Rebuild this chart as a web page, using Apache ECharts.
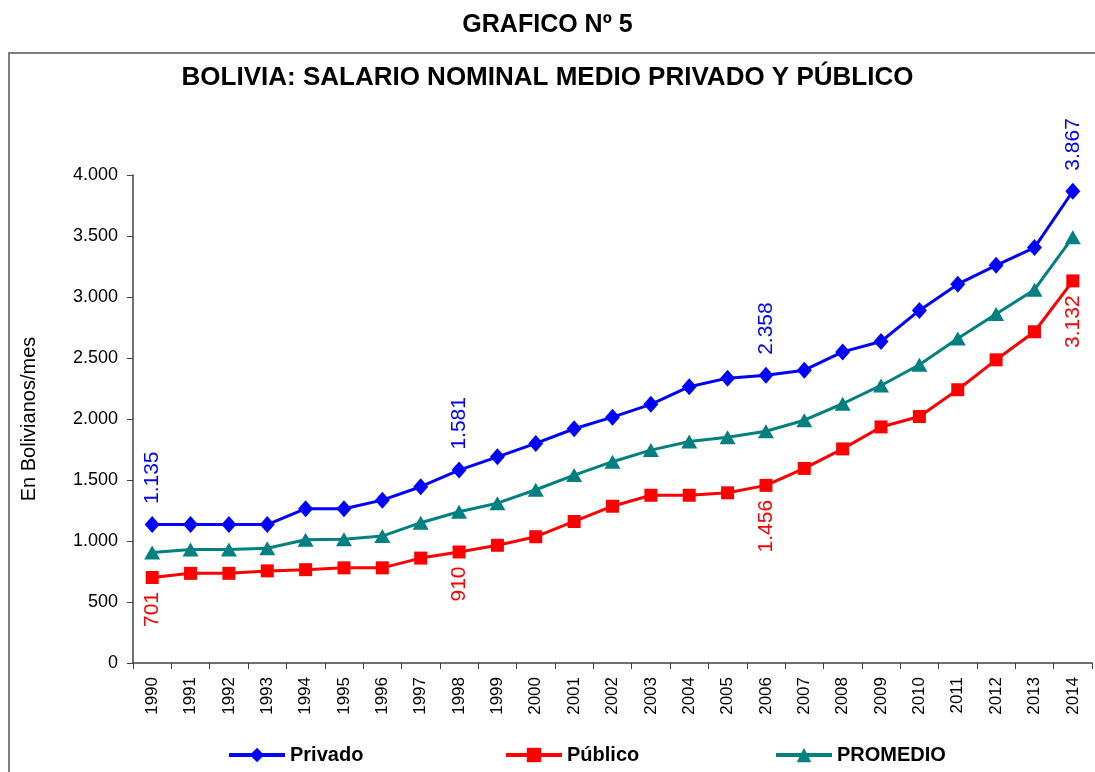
<!DOCTYPE html>
<html>
<head>
<meta charset="utf-8">
<script src="https://cdn.jsdelivr.net/npm/echarts@6/dist/echarts.min.js"></script>
<style>html,body{margin:0;padding:0;background:#fff;}#c{width:1095px;height:772px;}</style>
</head>
<body>
<div id="c"></div>
<script>
const years = ['1990','1991','1992','1993','1994','1995','1996','1997','1998','1999','2000','2001','2002','2003','2004','2005','2006','2007','2008','2009','2010','2011','2012','2013','2014'];
const privado = [1135,1135,1135,1135,1265,1265,1335,1445,1581,1690,1800,1920,2015,2120,2265,2335,2358,2400,2550,2635,2890,3105,3260,3405,3867];
const publico = [701,735,735,755,765,780,780,860,910,965,1035,1160,1285,1375,1375,1395,1456,1595,1755,1935,2020,2240,2485,2715,3132];
const promedio = [905,930,930,940,1010,1015,1040,1150,1240,1310,1420,1540,1650,1745,1815,1850,1900,1990,2125,2275,2445,2660,2860,3060,3490];
const labeledYears = ['1990','1998','2006','2014'];
const yTicks = [0,500,1000,1500,2000,2500,3000,3500,4000];

const FONT = "'Liberation Sans', Arial, sans-serif";
function fmt(v){ return String(v).replace(/\B(?=(\d{3})+(?!\d))/g, '.'); }

function withLabels(arr, labelCfg){
  return arr.map((v,i)=> labeledYears.indexOf(years[i])>=0 ? {value:v, label:Object.assign({show:true}, labelCfg)} : v);
}
const legendText = {fontFamily:FONT, fontWeight:'bold', fontSize:20, color:'#000'};

const chart = echarts.init(document.getElementById('c'));
chart.setOption({
  backgroundColor:'#fff',
  animation:false,
  graphic:[
    {type:'rect', shape:{x:9,y:53,width:1100,height:800}, style:{fill:'none', stroke:'#7f7f7f', lineWidth:2}, z:-1},
    {type:'text', left:'center', top:13, style:{text:'GRAFICO Nº 5', font:'bold 25px '+FONT, fill:'#000'}}
  ],
  title:{
    text:'BOLIVIA: SALARIO NOMINAL MEDIO PRIVADO Y PÚBLICO',
    left:'center', top:60,
    textStyle:{fontFamily:FONT, fontWeight:'bold', fontSize:26, color:'#000'}
  },
  legend:[
    {data:['Privado'], left:222, top:740, itemWidth:56, itemHeight:18, lineStyle:{width:4}, textStyle:legendText},
    {data:['Público'], left:499, top:740, itemWidth:56, itemHeight:18, lineStyle:{width:4}, textStyle:legendText},
    {data:['PROMEDIO'], left:769, top:740, itemWidth:56, itemHeight:18, lineStyle:{width:4}, textStyle:legendText}
  ],
  grid:{left:133, right:3, top:175, bottom:109, containLabel:false},
  xAxis:{
    type:'category', data:years, boundaryGap:true,
    axisLine:{lineStyle:{color:'#404040', width:1.5}},
    axisTick:{show:true, length:6, inside:false, alignWithLabel:false, lineStyle:{color:'#404040'}},
    axisLabel:{rotate:90, interval:0, fontFamily:FONT, fontSize:17, color:'#000', margin:14}
  },
  yAxis:{
    type:'value', min:0, max:4000, interval:500,
    name:'En Bolivianos/mes', nameLocation:'middle', nameGap:94, nameRotate:90,
    nameTextStyle:{fontFamily:FONT, fontSize:20, color:'#000'},
    axisLine:{show:true, lineStyle:{color:'#404040', width:1.5}},
    axisTick:{show:true, length:6, lineStyle:{color:'#404040'}},
    splitLine:{show:false},
    axisLabel:{fontFamily:FONT, fontSize:18, color:'#000', margin:15, formatter:function(v){ return yTicks.indexOf(v)>=0 ? fmt(v) : ''; }}
  },
  series:[
    {
      name:'Privado', type:'line', symbol:'diamond', symbolSize:[15,17],
      itemStyle:{color:'#0000ff'}, lineStyle:{color:'#0000ff', width:3},
      label:{show:false},
      data:withLabels(privado, {position:'top', distance:12, rotate:90, align:'left', verticalAlign:'middle', color:'#0000ff', fontFamily:FONT, fontSize:21, formatter:function(p){return fmt(p.value);}})
    },
    {
      name:'Público', type:'line', symbol:'rect', symbolSize:13,
      itemStyle:{color:'#ff0000'}, lineStyle:{color:'#ff0000', width:3},
      label:{show:false},
      data:withLabels(publico, {position:'bottom', distance:8, rotate:90, align:'right', verticalAlign:'middle', color:'#ff0000', fontFamily:FONT, fontSize:21, formatter:function(p){return fmt(p.value);}})
    },
    {
      name:'PROMEDIO', type:'line', symbol:'triangle', symbolSize:[16,14],
      itemStyle:{color:'#008080'}, lineStyle:{color:'#008080', width:3},
      data:promedio
    }
  ]
});
</script>
</body>
</html>
